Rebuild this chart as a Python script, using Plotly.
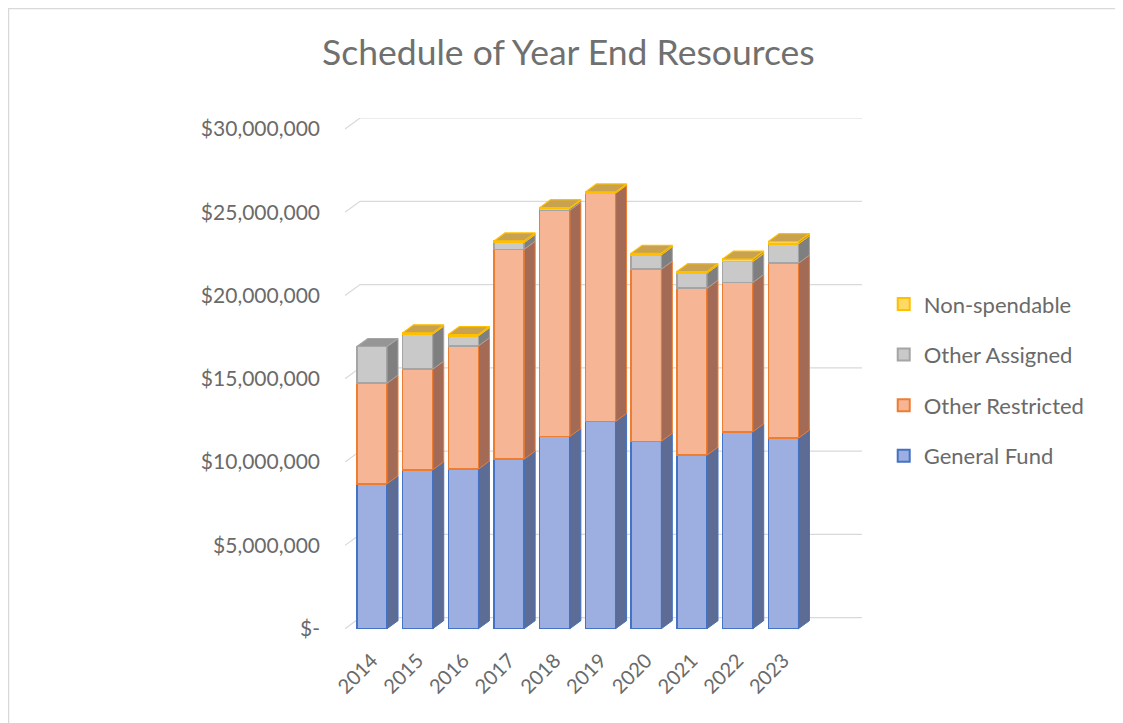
import plotly.graph_objects as go

# ---------------- data ----------------
years = ["2014", "2015", "2016", "2017", "2018", "2019", "2020", "2021", "2022", "2023"]
general_fund = [8700000, 9540000, 9580000, 10180000, 11540000, 12440000, 11250000, 10420000, 11820000, 11440000]
other_restricted = [6040000, 6040000, 7400000, 12600000, 13580000, 13700000, 10330000, 10020000, 8960000, 10500000]
other_assigned = [2200000, 2100000, 600000, 400000, 100000, 0, 860000, 900000, 1260000, 1160000]
non_spendable = [0, 80000, 80000, 100000, 60000, 80000, 100000, 100000, 150000, 140000]
y_tick_values = [0, 5000000, 10000000, 15000000, 20000000, 25000000, 30000000]
y_tick_labels = ["$-", "$5,000,000", "$10,000,000", "$15,000,000",
                 "$20,000,000", "$25,000,000", "$30,000,000"]

# name, values, front fill, outline, side fill, top fill
series = [
    ("General Fund", general_fund, "#9DAEE0", "#4472C4", "#5D6C94", "#7F93C8"),
    ("Other Restricted", other_restricted, "#F6B696", "#ED7D31", "#A36B55", "#D99A7C"),
    ("Other Assigned", other_assigned, "#C9C9C9", "#A5A5A5", "#7F7F7F", "#969696"),
    ("Non-spendable", non_spendable, "#FFD966", "#FFC000", "#B8962E", "#C8A24E"),
]

FONT = "Lato, Open Sans, sans-serif"
GREY = "#6A6A6A"
x = list(range(len(years)))
W = 0.66          # bar width (category units)
DX = 0.24         # bar depth offset (x)
DY = 480000       # bar depth offset (y)
WALL_DX = 0.33    # wall depth (x)
WALL_DY = 660000  # wall depth (y)
X0, X1 = -0.59, 10.72
Y0, Y1 = -200000, 30660000

FIG_W, FIG_H = 1123, 723
ML, MR, MT, MB = 337, 269, 110, 99
PW, PH = FIG_W - ML - MR, FIG_H - MT - MB

fig = go.Figure()

# front faces
n_series = len(series)
for si, (name, vals, front, line, side, top) in enumerate(series):
    fig.add_trace(go.Bar(
        x=x, y=[v if v > 0 else None for v in vals], name=name, width=W,
        legendgroup=name, legendrank=n_series - si,
        marker=dict(color=front, line=dict(color=line, width=1.5)),
        hoverinfo="skip",
    ))

# side faces
base = [0] * len(x)
tops = [None] * len(x)
for si, (name, vals, front, line, side, top) in enumerate(series):
    xs, ys = [], []
    for i, v in enumerate(vals):
        if v > 0:
            xr = x[i] + W / 2
            b = base[i]
            xs += [xr, xr + DX, xr + DX, xr, xr, None]
            ys += [b, b + DY, b + v + DY, b + v, b, None]
            tops[i] = si
    fig.add_trace(go.Scatter(x=xs, y=ys, mode="lines", fill="toself", fillcolor=side,
                             line=dict(color=line, width=1), showlegend=False, hoverinfo="skip"))
    base = [base[i] + vals[i] for i in range(len(x))]

# top faces
for si, (name, vals, front, line, side, top) in enumerate(series):
    xs, ys = [], []
    for i in range(len(x)):
        if tops[i] == si:
            xl, xr, t = x[i] - W / 2, x[i] + W / 2, base[i]
            xs += [xl, xl + DX, xr + DX, xr, xl, None]
            ys += [t, t + DY, t + DY, t, t, None]
    if xs:
        fig.add_trace(go.Scatter(x=xs, y=ys, mode="lines", fill="toself", fillcolor=top,
                                 line=dict(color=line, width=1.2), showlegend=False, hoverinfo="skip"))

# back-wall gridlines
shapes = []
for v in y_tick_values:
    shapes.append(dict(type="path", xref="x", yref="y", layer="below",
                       path=f"M {X0},{v} L {X0 + WALL_DX},{v + WALL_DY} L {X1},{v + WALL_DY}",
                       line=dict(color="#D9D9D9", width=1.2)))
# chart border (figure edges)
shapes.append(dict(type="rect", xref="paper", yref="paper", layer="below",
                   x0=-ML / PW + 0.001, x1=(FIG_W - ML) / PW - 0.001,
                   y0=-MB / PH + 0.001, y1=(FIG_H - MB) / PH - 0.001,
                   line=dict(color="#D9D9D9", width=1.5)))

fig.update_layout(
    width=FIG_W, height=FIG_H,
    margin=dict(l=ML, r=MR, t=MT, b=MB, autoexpand=False),
    paper_bgcolor="white", plot_bgcolor="rgba(0,0,0,0)",
    barmode="stack",
    shapes=shapes,
    title=dict(text="Schedule of Year End Resources", x=0.499, xref="container",
               y=0.939, yref="container", xanchor="center", yanchor="middle",
               font=dict(family=FONT, size=35.5, color="#707070")),
    legend=dict(traceorder="grouped", tracegroupgap=19,
                x=1.042, xanchor="left", y=0.49, yanchor="middle",
                font=dict(family=FONT, size=22, color=GREY),
                itemsizing="constant", bgcolor="rgba(0,0,0,0)"),
    font=dict(family=FONT, color=GREY),
)
fig.update_xaxes(range=[X0, X1], tickvals=x, ticktext=years, tickangle=-45,
                 showgrid=False, zeroline=False, showline=False, ticks="",
                 ticklabelstandoff=12,
                 tickfont=dict(family=FONT, size=20, color=GREY))
fig.update_yaxes(range=[Y0, Y1], tickvals=y_tick_values, ticktext=y_tick_labels,
                 showgrid=False, zeroline=False, showline=False, ticks="",
                 ticklabelstandoff=24,
                 tickfont=dict(family=FONT, size=21, color=GREY))

fig.write_html("out.html")
